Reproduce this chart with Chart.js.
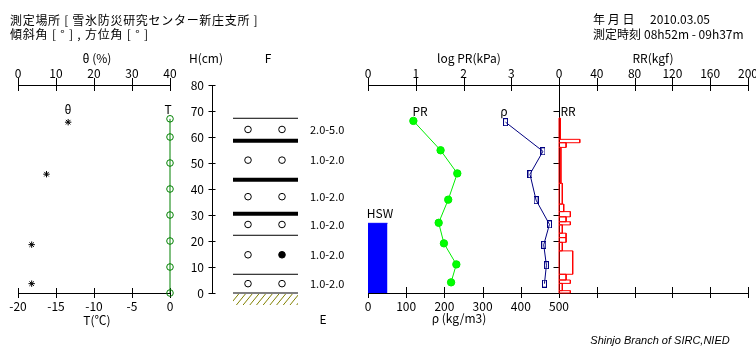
<!DOCTYPE html>
<html><head><meta charset="utf-8">
<script src="https://cdn.jsdelivr.net/npm/chart.js@4"></script>
<style>
body{margin:0;background:#fff;width:756px;height:360px;overflow:hidden;position:relative;font-family:'Noto Sans CJK JP',sans-serif;}
canvas{position:absolute;left:0;top:0;}
.t{position:absolute;font-size:12px;line-height:12px;white-space:pre;color:#000;transform:translate(-50%,-50%);}
.l{transform:translate(0,-50%);}
</style></head><body>
<canvas id="cA" width="756" height="360"></canvas>
<canvas id="cB" width="756" height="360"></canvas>
<canvas id="cC" width="756" height="360"></canvas>
<canvas id="cD" width="756" height="360"></canvas>

<div class="t l" style="left:10px;top:20px;letter-spacing:0.7px">測定場所 [ 雪氷防災研究センター新庄支所 ]</div>
<div class="t l" style="left:10px;top:34px;letter-spacing:0.8px">傾斜角 [ ° ] , 方位角 [ ° ]</div>
<div class="t l" style="left:593px;top:19px">年 月 日</div>
<div class="t l" style="left:650px;top:19px">2010.03.05</div>
<div class="t l" style="left:593px;top:34px">測定時刻</div>
<div class="t l" style="left:644px;top:34px">08h52m - 09h37m</div>

<div class="t" style="left:97px;top:58px">θ (%)</div>
<div class="t" style="left:206px;top:58px">H(cm)</div>
<div class="t" style="left:268px;top:58px">F</div>
<div class="t" style="left:469px;top:58px">log PR(kPa)</div>
<div class="t" style="left:653px;top:58px">RR(kgf)</div>
<div class="t" style="left:68px;top:109px">θ</div>
<div class="t" style="left:168px;top:109px">T</div>
<div class="t" style="left:420px;top:111px">PR</div>
<div class="t" style="left:504px;top:111px">ρ</div>
<div class="t" style="left:568px;top:111px">RR</div>
<div class="t" style="left:380px;top:213px">HSW</div>
<div class="t" style="left:97px;top:320px">T(℃)</div>
<div class="t" style="left:459px;top:318px">ρ (kg/m3)</div>
<div class="t" style="left:323px;top:319px">E</div>
<div class="t" style="left:660px;top:340px;font-family:'Liberation Sans';font-style:italic;font-size:11px">Shinjo Branch of SIRC,NIED</div>

<script>
// ---------- data ----------
const hTicks = [0, 10, 20, 30, 40, 50, 60, 70, 80];
const thetaTicks = [0, 10, 20, 30, 40];
const tempTicks = [-20, -15, -10, -5, 0];
const logPrTicks = [0, 1, 2, 3];
const rhoTicks = [0, 100, 200, 300, 400, 500];
const rrTicks = [0, 40, 80, 120, 160, 200];

const tempH = [0, 10, 20, 30, 40, 50, 60, 67];
const tempC = [0, 0, 0, 0, 0, 0, 0, 0];
const thetaH = [65.7, 45.7, 18.6, 3.6];
const thetaPct = [13.2, 7.5, 3.6, 3.6];

const layerBounds = [67.2, 22.2, 7.2, 0];   // thin layer boundaries
const crustBounds = [58.6, 43.6, 30.5];     // thick (crust) boundaries
const grainShapeA = ['○', '○', '○', '○', '○', '○'];
const grainShapeB = ['○', '○', '○', '○', '●', '○'];
const grainSize = ['2.0-5.0', '1.0-2.0', '1.0-2.0', '1.0-2.0', '1.0-2.0', '1.0-2.0'];

const prH = [66.2, 54.9, 46.0, 35.9, 27.0, 19.1, 11.0, 4.1];
const logPR = [0.95, 1.52, 1.87, 1.68, 1.48, 1.59, 1.85, 1.74];
const rhoH = [65.7, 54.5, 45.7, 35.7, 26.4, 18.5, 10.7, 3.6];
const rho = [360, 458, 424, 440, 475, 460, 467, 462];
const hswH = 26.8;

const rrBounds = [67.3, 59.1, 57.8, 56.0, 42.2, 34.2, 31.3, 29.3, 27.4, 26.2, 23.0, 21.3, 19.5, 16.2, 7.2, 5.0, 3.7, 0.9, 0];
const rrKgf = [1.4, 22, 7.5, 2, 3.5, 5, 12, 7.5, 12, 3.5, 7.5, 7.5, 3.5, 14.5, 7.5, 12, 3.5, 12];

// ---------- layout ----------
const W = 756, HH = 360, TOP = 85, BOT = 293;
const FONT = '12px "Noto Sans CJK JP"';
const HSW_WIDTH = 51;
const COL_L0 = 21, COL_L1 = 86, COL_A = 36, COL_B = 70, COL_TXT = 98;

function pad(l, r) { return { left: l, right: W - r, top: TOP, bottom: HH - BOT }; }
const yScale = { type: 'linear', min: 0, max: 80, display: false };

function lineAt(ctx, x0, y0, x1, y1) { ctx.moveTo(x0, y0); ctx.lineTo(x1, y1); }
function px(v) { return Math.round(v) + 0.5; }

function hAxis(ctx, scale, y, ticks, x0, x1, up, down, labels, labelY) {
  ctx.save();
  ctx.strokeStyle = '#000'; ctx.lineWidth = 1;
  ctx.beginPath();
  lineAt(ctx, x0, px(y), x1, px(y));
  ticks.forEach(v => { const x = px(scale.getPixelForValue(v)); lineAt(ctx, x, y - up, x, y + down); });
  ctx.stroke();
  if (labels) {
    ctx.fillStyle = '#000'; ctx.font = FONT; ctx.textAlign = 'center'; ctx.textBaseline = 'middle';
    ticks.forEach(v => ctx.fillText(String(v), scale.getPixelForValue(v), labelY));
  }
  ctx.restore();
}

function baseOptions(l, r, scales) {
  return {
    responsive: false, animation: false, events: [],
    layout: { padding: pad(l, r) },
    plugins: { legend: { display: false }, tooltip: { enabled: false } },
    scales: Object.assign({ y: yScale }, scales)
  };
}

// ---------- Panel A: theta / temperature ----------
new Chart(document.getElementById('cA'), {
  type: 'scatter',
  data: { datasets: [
    { xAxisID: 'xT', data: tempH.map((h, i) => ({ x: tempC[i], y: h })), showLine: true,
      borderColor: '#008000', borderWidth: 1, pointRadius: 3.3, pointBorderColor: '#008000',
      pointBackgroundColor: 'rgba(0,0,0,0)', pointBorderWidth: 1, clip: false },
    { xAxisID: 'x', data: thetaH.map((h, i) => ({ x: thetaPct[i], y: h })), showLine: false,
      pointStyle: 'star', pointRadius: 3.2, pointBorderColor: '#000', pointBorderWidth: 1, clip: false }
  ]},
  options: baseOptions(18, 170, {
    x: { type: 'linear', min: 0, max: 40, display: false },
    xT: { type: 'linear', axis: 'x', min: -20, max: 0, display: false }
  }),
  plugins: [{ id: 'axA', beforeDatasetsDraw(chart) {
    const ctx = chart.ctx, a = chart.chartArea;
    hAxis(ctx, chart.scales.x, TOP, thetaTicks, a.left, a.right + 1, 7, 6, true, 73);
    hAxis(ctx, chart.scales.xT, BOT, tempTicks, a.left, a.right + 1, 5, 5, true, 306);
  }}]
});

// ---------- Panel B: layers ----------
const allBounds = layerBounds.concat(crustBounds).sort((a, b) => b - a);
const mids = allBounds.slice(0, -1).map((b, i) => (b + allBounds[i + 1]) / 2);
const layerSets = [];
layerBounds.forEach(h => layerSets.push({ data: [{ x: COL_L0, y: h }, { x: COL_L1, y: h }], showLine: true,
  borderColor: '#000', borderWidth: 1, pointRadius: 0, clip: false }));
crustBounds.forEach(h => layerSets.push({ data: [{ x: COL_L0, y: h }, { x: COL_L1, y: h }], showLine: true,
  borderColor: '#000', borderWidth: 4, borderCapStyle: 'butt', pointRadius: 0, clip: false }));
layerSets.push({ data: mids.map(m => ({ x: COL_A, y: m })), showLine: false, pointRadius: 3.3,
  pointBorderColor: '#000', pointBorderWidth: 1,
  pointBackgroundColor: grainShapeA.map(s => s === '●' ? '#000' : '#fff'), clip: false });
layerSets.push({ data: mids.map(m => ({ x: COL_B, y: m })), showLine: false, pointRadius: 3.3,
  pointBorderColor: '#000', pointBorderWidth: 1,
  pointBackgroundColor: grainShapeB.map(s => s === '●' ? '#000' : '#fff'), clip: false });

new Chart(document.getElementById('cB'), {
  type: 'scatter',
  data: { datasets: layerSets },
  options: baseOptions(212, 312, { x: { type: 'linear', min: 0, max: 100, display: false } }),
  plugins: [{ id: 'axB', beforeDatasetsDraw(chart) {
    const ctx = chart.ctx, ys = chart.scales.y, xs = chart.scales.x;
    ctx.save();
    ctx.strokeStyle = '#000'; ctx.lineWidth = 1;
    const ax = 212.5;
    ctx.beginPath();
    lineAt(ctx, ax, ys.getPixelForValue(80), ax, ys.getPixelForValue(0) + 1);
    hTicks.forEach(v => { const y = px(ys.getPixelForValue(v)); lineAt(ctx, ax - 4, y, ax + 3, y); });
    ctx.stroke();
    ctx.fillStyle = '#000'; ctx.font = FONT; ctx.textAlign = 'right'; ctx.textBaseline = 'middle';
    hTicks.forEach(v => ctx.fillText(String(v), 204, ys.getPixelForValue(v)));
    // ground hatch
    const g = ys.getPixelForValue(0), x0 = xs.getPixelForValue(COL_L0), x1 = xs.getPixelForValue(COL_L1);
    ctx.save();
    ctx.beginPath(); ctx.rect(x0, g + 1, x1 - x0, 11); ctx.clip();
    ctx.strokeStyle = '#808000'; ctx.lineWidth = 1;
    ctx.beginPath();
    for (let x = x0 - 10; x < x1 + 10; x += 6.7) lineAt(ctx, x, g + 12, x + 9, g + 1);
    ctx.stroke();
    ctx.restore();
    // grain size text
    ctx.font = '11px "Noto Sans CJK JP"'; ctx.textAlign = 'left';
    mids.forEach((m, i) => ctx.fillText(grainSize[i], xs.getPixelForValue(COL_TXT), ys.getPixelForValue(m)));
    ctx.restore();
  }}]
});

// ---------- Panel C: PR / density / HSW ----------
function rectImg() {
  const c = document.createElement('canvas'); c.width = 5; c.height = 8;
  const g = c.getContext('2d'); g.strokeStyle = '#000080'; g.lineWidth = 1; g.strokeRect(0.5, 0.5, 4, 7);
  return c;
}
new Chart(document.getElementById('cC'), {
  type: 'scatter',
  data: { datasets: [
    { xAxisID: 'x', data: [{ x: 0, y: hswH }, { x: HSW_WIDTH, y: hswH }], showLine: true, fill: 'origin',
      borderColor: '#0000ff', backgroundColor: '#0000ff', borderWidth: 1, pointRadius: 0 },
    { xAxisID: 'xP', data: prH.map((h, i) => ({ x: logPR[i], y: h })), showLine: true,
      borderColor: '#00ee00', borderWidth: 1, pointRadius: 3.7, pointBackgroundColor: '#00ff00',
      pointBorderColor: '#00ee00', clip: false },
    { xAxisID: 'x', data: rhoH.map((h, i) => ({ x: rho[i], y: h })), showLine: true,
      borderColor: '#000080', borderWidth: 1, pointRadius: 4, pointStyle: rectImg(), clip: false }
  ]},
  options: baseOptions(368, 559, {
    x: { type: 'linear', min: 0, max: 500, display: false },
    xP: { type: 'linear', axis: 'x', min: 0, max: 4, display: false }
  }),
  plugins: [{ id: 'axC', beforeDatasetsDraw(chart) {
    const ctx = chart.ctx, a = chart.chartArea;
    hAxis(ctx, chart.scales.xP, TOP, logPrTicks, a.left, a.right, 7, 6, true, 73);
    hAxis(ctx, chart.scales.x, BOT, rhoTicks, a.left, a.right, 6, 5, true, 306);
  }}]
});

// ---------- Panel D: RR ----------
const rrSets = rrKgf.map((v, i) => {
  const t = rrBounds[i], b = rrBounds[i + 1];
  return { data: [{ x: 0, y: t }, { x: v, y: t }, { x: v, y: b }, { x: 0, y: b }, { x: 0, y: t }],
    showLine: true, borderColor: '#ff0000', borderWidth: 1, pointRadius: 0, clip: false };
});
new Chart(document.getElementById('cD'), {
  type: 'scatter',
  data: { datasets: rrSets },
  options: baseOptions(559, 748, { x: { type: 'linear', min: 0, max: 200, display: false } }),
  plugins: [{ id: 'axD', beforeDatasetsDraw(chart) {
    const ctx = chart.ctx, a = chart.chartArea, xs = chart.scales.x, ys = chart.scales.y;
    hAxis(ctx, xs, TOP, rrTicks, a.left, a.right + 1, 7, 6, true, 73);
    hAxis(ctx, xs, BOT, rrTicks.slice(1), a.left, a.right + 1, 6, 5, false, 0);
    ctx.save();
    ctx.strokeStyle = '#000'; ctx.lineWidth = 1;
    const ax = px(xs.getPixelForValue(0));
    ctx.beginPath();
    lineAt(ctx, ax, TOP, ax, BOT + 1);
    hTicks.slice(1, -1).forEach(v => { const y = px(ys.getPixelForValue(v)); lineAt(ctx, ax - 6, y, ax, y); });
    ctx.stroke();
    ctx.restore();
  }}]
});
</script>
</body></html>
